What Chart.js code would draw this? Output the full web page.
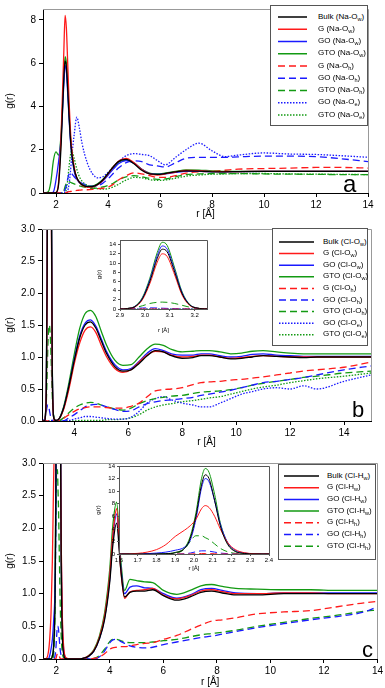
<!DOCTYPE html>
<html>
<head>
<meta charset="utf-8">
<script src="https://cdn.jsdelivr.net/npm/chart.js@4.4.1/dist/chart.umd.min.js"></script>
<style>
html, body { margin: 0; padding: 0; background: #fff; }
#fig { position: relative; width: 385px; height: 688px; overflow: hidden; font-family: "Liberation Sans", Arial, sans-serif; }
canvas { position: absolute; }
.legend { position: absolute; background: #fff; border: 1px solid #555; box-sizing: border-box; }
.legend .row { position: absolute; font-size: 8px; line-height: 10px; white-space: nowrap; color: #000; }
.legend sub { font-size: 5.5px; vertical-align: -1.5px; line-height: 0; }
.legend svg { position: absolute; left: 0; top: 0; }
.tag { position: absolute; line-height: 1; color: #000; }
</style>
</head>
<body>
<div id="fig"></div>
<script>
// ---- panel a : Na-O ----
var rA = [1.5,1.7,1.8,1.9,2.0,2.1,2.2,2.3,2.35,2.4, 2.45,2.5,2.55,2.6,2.7,2.8,2.9,3.0,3.2,3.4,
          3.6,3.8,4.0,4.2,4.4,4.7,5.0,5.3,5.6,5.9, 6.2,6.6,7.0,7.5,8.0,8.5,9,10,11,12, 13,14];
var bulkNaOw = [0,0,0,0,0.02,0.4,2.3,5.3,6.1,5.8, 4.8,3.6,2.6,1.9,1.1,0.7,0.5,0.38,0.29,0.3,
                0.4,0.6,0.9,1.2,1.45,1.55,1.35,1.05,0.88,0.86, 0.9,0.98,1.02,1.01,0.98,0.98,0.99,1.0,1.0,1.0, 1.0,1.0];
var gNaOw = [0,0,0,0,0.02,0.5,2.8,6.5,8.2,7.6, 6.0,4.3,3.0,2.1,1.2,0.7,0.5,0.36,0.27,0.28,
             0.38,0.58,0.88,1.2,1.47,1.6,1.4,1.08,0.88,0.83, 0.88,0.97,1.04,1.03,1.0,0.99,0.99,1.0,1.0,1.0, 1.0,1.0];
var goNaOw = [0,0,0,0.05,0.6,1.45,2.6,5.0,5.9,5.6, 4.6,3.5,2.5,1.8,1.0,0.65,0.48,0.38,0.3,0.3,
              0.38,0.55,0.82,1.1,1.35,1.5,1.38,1.1,0.9,0.86, 0.88,0.95,1.0,1.0,0.99,0.98,0.99,1.0,1.0,1.0, 1.0,1.0];
var gtoNaOw = [0,0.05,0.5,1.5,1.9,1.75,2.8,5.3,6.3,6.0, 5.0,3.8,2.7,2.0,1.1,0.7,0.5,0.4,0.32,0.32,
               0.42,0.62,0.9,1.2,1.42,1.52,1.38,1.1,0.92,0.88, 0.92,1.0,1.07,1.06,1.02,1.0,1.0,1.0,1.0,1.0, 1.0,1.0];
var gNaOh = [0,0,0,0,0,0,0,0,0,0.02, 0.04,0.06,0.07,0.08,0.1,0.12,0.13,0.14,0.15,0.17,
             0.2,0.22,0.27,0.4,0.6,0.8,0.93,0.88,0.8,0.72, 0.72,0.8,0.92,0.98,1.0,1.05,1.1,1.13,1.15,1.18, 1.18,1.15];
var goNaOh = [0,0,0,0,0,0,0,0.05,0.15,0.35, 0.65,0.88,0.95,0.9,0.75,0.62,0.52,0.45,0.36,0.3,
              0.33,0.45,0.65,0.9,1.15,1.4,1.48,1.45,1.3,1.25, 1.2,1.4,1.6,1.65,1.65,1.65,1.67,1.7,1.7,1.68, 1.58,1.45];
var gtoNaOh = [0,0,0,0,0,0,0,0.1,0.3,0.45, 0.52,0.52,0.5,0.47,0.42,0.38,0.33,0.3,0.25,0.22,
               0.23,0.28,0.35,0.45,0.6,0.75,0.8,0.75,0.68,0.63, 0.65,0.75,0.85,0.88,0.9,0.9,0.9,0.88,0.87,0.86, 0.85,0.85];
var goNaOe = [0,0,0,0,0,0,0,0,0,0, 0.1,0.4,0.9,1.6,2.7,3.5,3.0,2.3,1.4,0.9,
              0.7,0.75,0.95,1.2,1.45,1.72,1.82,1.78,1.72,1.5, 1.3,1.65,2.0,2.3,1.95,1.68,1.75,1.85,1.8,1.78, 1.72,1.65];
var gtoNaOe = [0,0,0,0,0,0,0,0,0,0.2, 0.6,1.2,1.7,1.95,1.6,1.1,0.75,0.55,0.35,0.25,
               0.2,0.18,0.2,0.28,0.4,0.6,0.72,0.7,0.62,0.58, 0.6,0.68,0.78,0.83,0.87,0.88,0.9,0.9,0.88,0.87, 0.86,0.85];
var namesA = ['Bulk (Na-O_w)','G (Na-O_w)','GO (Na-O_w)','GTO (Na-O_w)','G (Na-O_h)','GO (Na-O_h)','GTO (Na-O_h)','GO (Na-O_e)','GTO (Na-O_e)'];
var xTicksA = [2,4,6,8,10,12,14];
var yTicksA = [0,2,4,6,8];

// ---- panel b : Cl-O ----
var rB = [2.8,2.9,2.93,2.96,2.99,3.02,3.05,3.07,3.09,3.12, 3.15,3.18,3.21,3.25,3.3,3.4,3.6,3.8,4.0,4.2,
          4.4,4.6,4.8,5.0,5.2,5.5,5.8,6.1,6.4,6.7, 7.0,7.3,7.6,8.0,8.4,8.7,9.0,9.4,9.8,10.2, 10.6,11,11.5,12,12.5,13,14,15];
var bulkClOw = [0,0,0.1,0.5,2.2,6.0,11.0,13.0,12.4,8.0, 3.3,0.9,0.2,0.03,0.01,0.02,0.2,0.55,0.95,1.3,
                1.5,1.55,1.45,1.25,1.05,0.85,0.78,0.8,0.9,1.02, 1.1,1.08,1.02,0.98,0.99,1.02,1.02,1.0,0.97,0.98, 1.0,1.02,1.01,1.0,0.99,1.0,1.0,1.0];
var gClOw = [0,0,0.1,0.45,2.0,5.5,10.2,12.0,11.4,7.4, 3.0,0.8,0.18,0.03,0.01,0.02,0.18,0.5,0.9,1.22,
             1.42,1.47,1.38,1.18,1.0,0.82,0.76,0.8,0.92,1.03, 1.09,1.08,1.03,1.0,1.01,1.03,1.03,1.0,0.98,0.99, 1.01,1.02,1.01,1.0,1.0,1.0,1.0,1.0];
var goClOw = [0,0,0.1,0.55,2.3,6.3,11.6,13.7,13.0,8.4, 3.5,0.95,0.2,0.03,0.01,0.02,0.2,0.55,0.97,1.33,
              1.53,1.58,1.48,1.28,1.08,0.88,0.8,0.82,0.93,1.06, 1.13,1.1,1.05,1.03,1.03,1.05,1.05,1.02,1.0,1.01, 1.04,1.05,1.03,1.02,1.01,1.01,1.01,1.01];
var gtoClOw = [0,0,0.12,0.6,2.5,6.7,12.3,14.5,13.8,8.9, 3.7,1.0,0.22,0.04,0.01,0.02,0.22,0.6,1.05,1.45,
               1.68,1.73,1.63,1.4,1.18,0.95,0.87,0.88,1.0,1.13, 1.2,1.18,1.12,1.08,1.09,1.1,1.1,1.08,1.05,1.06, 1.09,1.1,1.08,1.06,1.05,1.05,1.05,1.05];
var gClOh = [0,0,0,0,0,0,0,0,0,0, 0,0,0,0,0,0,0.04,0.1,0.15,0.19,
             0.21,0.22,0.22,0.22,0.21,0.2,0.2,0.23,0.28,0.38, 0.47,0.49,0.5,0.52,0.57,0.6,0.61,0.62,0.64,0.65, 0.67,0.69,0.72,0.75,0.78,0.8,0.84,0.92];
var goClOh = [0,0.03,0.08,0.15,0.22,0.25,0.22,0.18,0.13,0.07, 0.03,0.01,0,0,0,0,0,0.05,0.1,0.16,
              0.22,0.25,0.26,0.25,0.22,0.18,0.15,0.16,0.22,0.27, 0.3,0.32,0.33,0.35,0.37,0.4,0.42,0.45,0.48,0.52, 0.56,0.6,0.62,0.65,0.68,0.72,0.8,0.86];
var gtoClOh = [0,0.02,0.1,0.3,0.7,1.2,1.45,1.5,1.45,1.2, 0.8,0.4,0.15,0.05,0.01,0,0.05,0.13,0.2,0.25,
               0.28,0.29,0.28,0.25,0.22,0.19,0.17,0.2,0.27,0.32, 0.35,0.37,0.39,0.4,0.43,0.45,0.46,0.47,0.49,0.52, 0.56,0.59,0.62,0.65,0.68,0.7,0.75,0.78];
var goClOe = [0,0,0,0,0,0,0,0,0,0, 0,0,0,0,0,0,0,0.01,0.03,0.05,
              0.07,0.07,0.06,0.05,0.04,0.03,0.03,0.06,0.15,0.28, 0.35,0.38,0.33,0.28,0.25,0.22,0.22,0.28,0.35,0.42, 0.46,0.5,0.52,0.5,0.55,0.5,0.62,0.72];
var gtoClOe = [0,0,0,0,0,0,0,0,0,0, 0,0,0,0,0,0,0,0,0,0.01,
               0.01,0.01,0.01,0.01,0.02,0.02,0.03,0.05,0.1,0.17, 0.22,0.25,0.27,0.3,0.32,0.34,0.36,0.38,0.42,0.46, 0.5,0.53,0.56,0.6,0.63,0.66,0.7,0.75];
var namesB = ['Bulk (Cl-O_w)','G (Cl-O_w)','GO (Cl-O_w)','GTO (Cl-O_w)','G (Cl-O_h)','GO (Cl-O_h)','GTO (Cl-O_h)','GO (Cl-O_e)','GTO (Cl-O_e)'];
var xTicksB = [4,6,8,10,12,14];
var yTicksBC = [0,0.5,1.0,1.5,2.0,2.5,3.0];
var xTicksInsetB = [2.9,3.0,3.1,3.2];
var yTicksInset = [0,2,4,6,8,10,12,14];

// ---- panel c : Cl-H ----
var rC = [1.5,1.6,1.7,1.75,1.8,1.85,1.9,1.95,1.98,2.01, 2.04,2.06,2.08,2.11,2.14,2.18,2.22,2.27,2.32,2.4,
          2.6,2.8,3.0,3.2,3.4,3.6,3.8,4.0,4.1,4.25, 4.4,4.55,4.75,5.0,5.3,5.6,6.0,6.5,7.0,7.4, 7.8,8.2,8.7,9.5,10.5,11.5,12.5,13.5,14];
var bulkClHw = [0,0,0,0,0,0.05,0.2,0.9,2.5,6.0, 11.0,12.6,12.0,8.5,4.5,1.5,0.4,0.08,0.01,0,
                0,0,0.01,0.04,0.12,0.3,0.6,1.2,1.7,2.08, 1.4,0.95,1.02,1.04,1.04,1.06,0.97,0.9,0.95,1.02, 1.04,1.01,0.98,0.98,1.0,1.0,1.0,1.0,1.0];
var gClHw = [0,0,0.1,0.3,0.7,1.5,2.8,3.8,4.5,5.5, 7.2,7.7,7.4,6.0,4.0,1.8,0.7,0.2,0.05,0.01,
             0,0,0.01,0.05,0.13,0.32,0.65,1.3,1.85,2.3, 1.4,0.93,1.03,1.05,1.06,1.08,0.98,0.92,0.97,1.04, 1.06,1.03,1.0,1.0,1.01,1.01,1.0,1.0,1.0];
var goClHw = [0,0,0,0.05,0.15,0.3,0.6,1.1,2.2,5.5, 10.5,12.0,11.5,8.5,4.8,1.8,0.6,0.15,0.03,0,
              0,0,0.01,0.04,0.12,0.3,0.62,1.25,1.8,2.22, 1.45,1.0,1.1,1.12,1.09,1.08,1.0,0.93,0.98,1.06, 1.08,1.05,1.01,1.0,1.01,1.01,1.01,1.01,1.01];
var gtoClHw = [0,0,0,0,0,0.05,0.25,1.0,2.8,6.5, 12.0,13.6,13.0,9.5,5.0,1.7,0.45,0.1,0.02,0,
               0,0,0.01,0.05,0.14,0.34,0.7,1.4,2.0,2.4, 1.55,1.05,1.22,1.2,1.18,1.17,1.05,0.99,1.05,1.12, 1.14,1.11,1.08,1.07,1.06,1.06,1.05,1.05,1.05];
var gClHh = [0,0,0,0,0,0,0,0,0,0.05, 0.08,0.08,0.07,0.04,0.01,0,0,0,0,0,
             0,0,0,0,0.01,0.03,0.08,0.15,0.17,0.18, 0.19,0.19,0.2,0.22,0.24,0.25,0.3,0.36,0.45,0.52, 0.58,0.6,0.63,0.69,0.72,0.74,0.8,0.86,0.88];
var goClHh = [0,0,0,0,0,0,0,0.05,0.15,0.35, 0.5,0.5,0.45,0.3,0.15,0.05,0,0,0,0,
              0,0,0,0,0,0.03,0.12,0.25,0.29,0.3, 0.27,0.24,0.2,0.18,0.17,0.18,0.22,0.26,0.3,0.33, 0.35,0.38,0.42,0.48,0.54,0.6,0.65,0.72,0.8];
var gtoClHh = [0,0,0,0,0,0,0.1,0.8,2.0,2.9, 2.9,2.6,2.3,1.6,0.9,0.35,0.1,0.02,0,0,
               0,0,0,0,0.01,0.05,0.15,0.27,0.3,0.3, 0.28,0.26,0.25,0.25,0.25,0.26,0.28,0.3,0.34,0.37, 0.39,0.41,0.44,0.5,0.56,0.62,0.67,0.73,0.75];
var namesC = ['Bulk (Cl-H_w)','G (Cl-H_w)','GO (Cl-H_w)','GTO (Cl-H_w)','G (Cl-H_h)','GO (Cl-H_h)','GTO (Cl-H_h)'];
var xTicksC = [2,4,6,8,10,12,14];
var xTicksInsetC = [1.6,1.7,1.8,1.9,2.0,2.1,2.2,2.3,2.4];

// line styles, same order in every panel
var styles = [
    {color: '#000000', dash: []},
    {color: '#ff1a1a', dash: []},
    {color: '#1a1aff', dash: []},
    {color: '#139a13', dash: []},
    {color: '#ff1a1a', dash: [7, 4]},
    {color: '#1a1aff', dash: [7, 4]},
    {color: '#139a13', dash: [7, 4]},
    {color: '#1a1aff', dash: [1.5, 1.5]},
    {color: '#139a13', dash: [1.5, 1.5]}
];

Chart.defaults.font.family = '"Liberation Sans", Arial, sans-serif';
Chart.defaults.color = '#000';

var fig = document.getElementById('fig');

// gray top/right edges of the plot box, white fill for insets
var framePlugin = {
    id: 'frame',
    beforeDraw: function(chart, args, opts) {
        if (!opts.fill) return;
        var a = chart.chartArea, ctx = chart.ctx;
        ctx.save();
        ctx.fillStyle = '#fff';
        ctx.fillRect(a.left, a.top, a.right - a.left, a.bottom - a.top);
        ctx.restore();
    },
    afterDraw: function(chart, args, opts) {
        var a = chart.chartArea, ctx = chart.ctx;
        ctx.save();
        ctx.strokeStyle = opts.color || '#888';
        ctx.lineWidth = 1;
        ctx.beginPath();
        ctx.moveTo(a.left, Math.round(a.top) + 0.5);
        ctx.lineTo(Math.round(a.right) + 0.5, Math.round(a.top) + 0.5);
        ctx.lineTo(Math.round(a.right) + 0.5, a.bottom);
        ctx.stroke();
        ctx.restore();
    }
};

function makeChart(p) {
    var cv = document.createElement('canvas');
    cv.width = p.w;
    cv.height = p.h;
    cv.style.left = p.x + 'px';
    cv.style.top = p.y + 'px';
    fig.appendChild(cv);

    var datasets = p.series.map(function(g, i) {
        return {
            data: p.r.map(function(r, k) { return {x: r, y: g[k]}; }),
            borderColor: styles[i].color,
            borderDash: styles[i].dash,
            borderWidth: p.lw,
            pointRadius: 0,
            showLine: true,
            fill: false,
            cubicInterpolationMode: 'monotone'
        };
    });

    var fs = p.fontSize;
    return new Chart(cv, {
        type: 'scatter',
        data: {datasets: datasets},
        options: {
            responsive: false,
            animation: false,
            devicePixelRatio: 1,
            events: [],
            layout: {padding: {left: 0, bottom: 0, top: p.area.top - p.y, right: p.x + p.w - p.area.right}},
            plugins: {
                legend: {display: false},
                tooltip: {enabled: false},
                frame: {fill: p.inset, color: p.frameColor}
            },
            scales: {
                x: {
                    type: 'linear', min: p.xMin, max: p.xMax,
                    afterFit: function(s) { s.height = p.y + p.h - p.area.bottom; },
                    afterBuildTicks: function(s) { s.ticks = p.xTicks.map(function(v) { return {value: v}; }); },
                    ticks: {font: {size: fs}, padding: p.tickPad, maxRotation: 0, autoSkip: false,
                            callback: function(v) { return p.xFmt ? v.toFixed(p.xFmt) : v; }},
                    grid: {drawOnChartArea: false, drawTicks: true, tickLength: p.tickLen, color: p.axisColor},
                    border: {color: p.axisColor},
                    title: {display: true, text: 'r [Å]', font: {size: fs}, padding: {top: 0, bottom: 0}}
                },
                y: {
                    type: 'linear', min: p.yMin, max: p.yMax,
                    afterFit: function(s) { s.width = p.area.left - p.x; },
                    afterBuildTicks: function(s) { s.ticks = p.yTicks.map(function(v) { return {value: v}; }); },
                    ticks: {font: {size: fs}, padding: p.tickPad + 1, autoSkip: false,
                            callback: function(v) { return p.yFmt ? v.toFixed(p.yFmt) : v; }},
                    grid: {drawOnChartArea: false, drawTicks: true, tickLength: p.tickLen, color: p.axisColor},
                    border: {color: p.axisColor},
                    title: {display: true, text: 'g(r)', font: {size: fs}, padding: {top: p.yTitlePad, bottom: 0}}
                }
            }
        },
        plugins: [framePlugin]
    });
}

function subText(s) {
    return s.replace(/_(\w)/, '<sub>$1</sub>');
}

function makeLegend(names, L) {
    var box = document.createElement('div');
    box.className = 'legend';
    box.style.left = L.left + 'px';
    box.style.top = L.top + 'px';
    box.style.width = (L.right - L.left) + 'px';
    box.style.height = (L.bottom - L.top) + 'px';
    var ns = 'http://www.w3.org/2000/svg';
    var svg = document.createElementNS(ns, 'svg');
    svg.setAttribute('width', L.right - L.left);
    svg.setAttribute('height', L.bottom - L.top);
    box.appendChild(svg);
    names.forEach(function(n, i) {
        var y = L.row0 + i * L.gap - L.top;
        var ln = document.createElementNS(ns, 'line');
        ln.setAttribute('x1', L.lx0 - L.left);
        ln.setAttribute('x2', L.lx1 - L.left);
        ln.setAttribute('y1', y);
        ln.setAttribute('y2', y);
        ln.setAttribute('stroke', styles[i].color);
        ln.setAttribute('stroke-width', 1.5);
        if (styles[i].dash.length) ln.setAttribute('stroke-dasharray', styles[i].dash.join(' '));
        svg.appendChild(ln);
        var row = document.createElement('div');
        row.className = 'row';
        row.style.left = (L.tx - L.left) + 'px';
        row.style.top = (y - 5.5) + 'px';
        row.innerHTML = subText(n);
        box.appendChild(row);
    });
    fig.appendChild(box);
}

function tag(ch, left, baseline, size) {
    var d = document.createElement('div');
    d.className = 'tag';
    d.textContent = ch;
    d.style.left = left + 'px';
    d.style.top = (baseline - 0.85 * size) + 'px';
    d.style.fontSize = size + 'px';
    fig.appendChild(d);
}

var mainStyle = {lw: 1.3, fontSize: 10, tickPad: 2, tickLen: 4, yTitlePad: 4, axisColor: '#000', frameColor: '#999', inset: false};
var insetStyle = {lw: 1.0, fontSize: 6, tickPad: 1, tickLen: 2, yTitlePad: 0, axisColor: '#555', frameColor: '#555', inset: true};

function extend(base, more) {
    var o = {};
    for (var k in base) o[k] = base[k];
    for (var m in more) o[m] = more[m];
    return o;
}

// panel a
makeChart(extend(mainStyle, {
    x: 0, y: 0, w: 385, h: 220, area: {left: 43, right: 368, top: 2, bottom: 193},
    r: rA, series: [bulkNaOw, gNaOw, goNaOw, gtoNaOw, gNaOh, goNaOh, gtoNaOh, goNaOe, gtoNaOe],
    xMin: 1.5, xMax: 14, yMin: 0, yMax: 8.5, xTicks: xTicksA, yTicks: yTicksA
}));
makeLegend(namesA, {left: 270, top: 5, right: 368, bottom: 126, row0: 16, gap: 12.25, lx0: 277, lx1: 306, tx: 317});
tag('a', 343, 192, 24);

// panel b
makeChart(extend(mainStyle, {
    x: 0, y: 220, w: 385, h: 228, area: {left: 42, right: 371, top: 228, bottom: 421},
    r: rB, series: [bulkClOw, gClOw, goClOw, gtoClOw, gClOh, goClOh, gtoClOh, goClOe, gtoClOe],
    xMin: 2.8, xMax: 15, yMin: 0, yMax: 3, xTicks: xTicksB, yTicks: yTicksBC, yFmt: 1
}));
makeChart(extend(insetStyle, {
    x: 96, y: 234, w: 120, h: 100, area: {left: 120, right: 207, top: 240, bottom: 309},
    r: rB, series: [bulkClOw, gClOw, goClOw, gtoClOw, gClOh, goClOh, gtoClOh, goClOe, gtoClOe],
    xMin: 2.9, xMax: 3.25, yMin: 0, yMax: 15, xTicks: xTicksInsetB, yTicks: yTicksInset, xFmt: 1
}));
makeLegend(namesB, {left: 272, top: 228, right: 368, bottom: 346, row0: 241, gap: 11.6, lx0: 278, lx1: 313, tx: 322});
tag('b', 352, 418, 22);

// panel c
makeChart(extend(mainStyle, {
    x: 0, y: 452, w: 385, h: 236, area: {left: 43, right: 378, top: 463, bottom: 659},
    r: rC, series: [bulkClHw, gClHw, goClHw, gtoClHw, gClHh, goClHh, gtoClHh],
    xMin: 1.5, xMax: 14, yMin: 0, yMax: 3, xTicks: xTicksC, yTicks: yTicksBC, yFmt: 1
}));
makeChart(extend(insetStyle, {
    x: 95, y: 460, w: 185, h: 112, area: {left: 119, right: 269, top: 466, bottom: 554},
    r: rC, series: [bulkClHw, gClHw, goClHw, gtoClHw, gClHh, goClHh, gtoClHh],
    xMin: 1.6, xMax: 2.4, yMin: 0, yMax: 14, xTicks: xTicksInsetC, yTicks: yTicksInset, xFmt: 1
}));
makeLegend(namesC, {left: 278, top: 464, right: 376, bottom: 560, row0: 475, gap: 11.7, lx0: 283, lx1: 318, tx: 326});
tag('c', 362, 658, 22);
</script>
</body>
</html>
